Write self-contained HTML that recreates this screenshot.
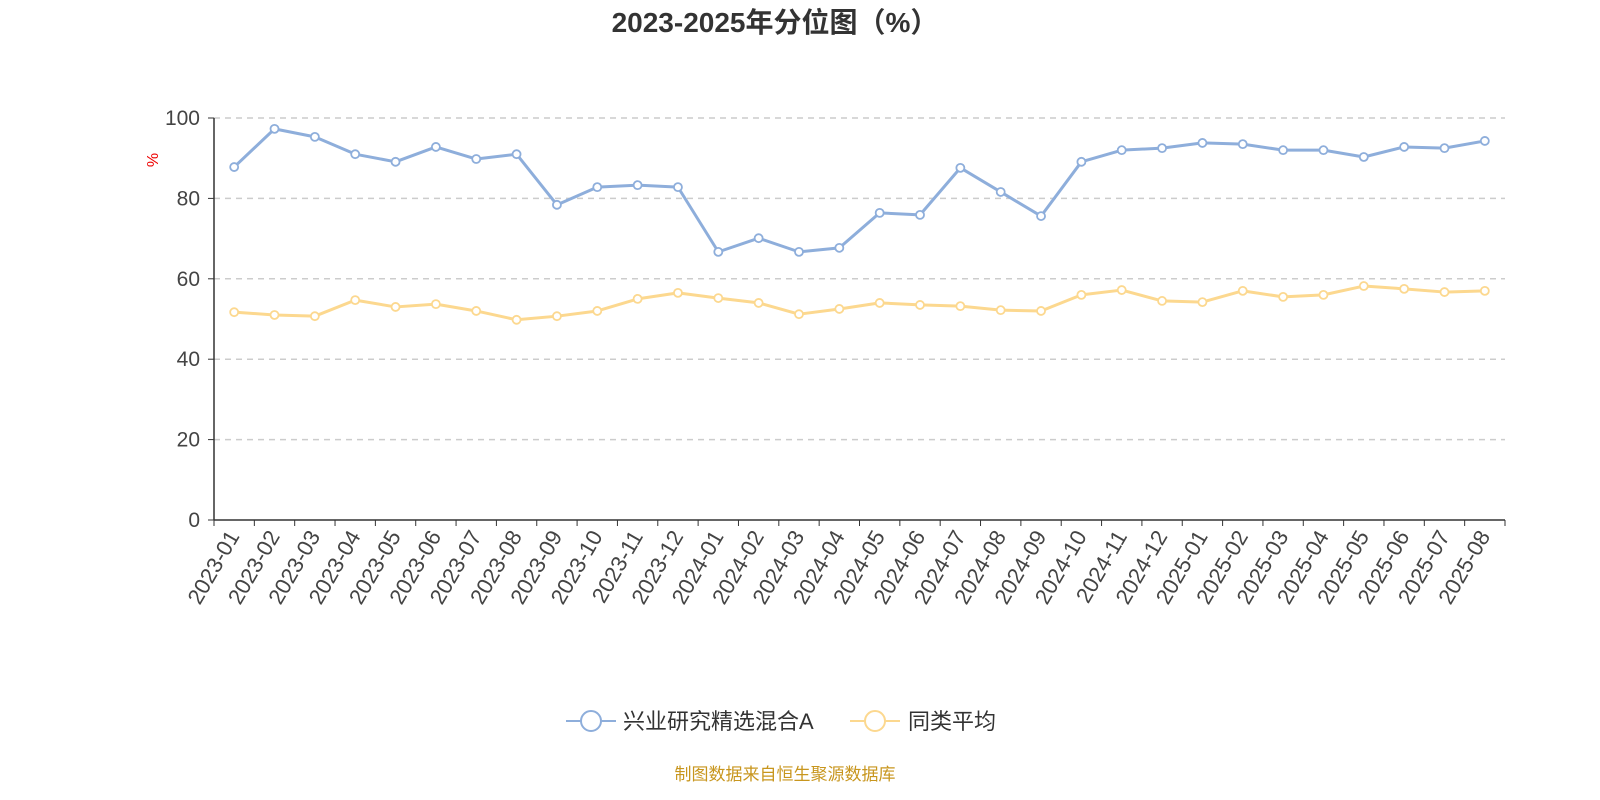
<!DOCTYPE html>
<html><head><meta charset="utf-8"><style>
body{margin:0;background:#fff;}
svg{display:block;font-family:"Liberation Sans","Noto Sans CJK SC",sans-serif;}
</style></head><body>
<svg id="c" width="1600" height="800">
<text x="775" y="32" text-anchor="middle" font-size="28" font-weight="bold" fill="#333">2023-2025年分位图（%）</text>
<text x="158" y="160" font-size="16" fill="#e00" transform="rotate(-90 158 160)" text-anchor="middle">%</text>
<g id="grid"></g><g id="axes"></g><g id="series"></g>
<g>
<g>
<line x1="566" y1="721" x2="616" y2="721" stroke="#8eaedb" stroke-width="2"/><circle cx="591" cy="721" r="10" fill="#fff" stroke="#8eaedb" stroke-width="2"/>
<text x="623" y="729" font-size="22" fill="#333">兴业研究精选混合A</text></g>
<g>
<line x1="850" y1="721" x2="900" y2="721" stroke="#fcd88f" stroke-width="2"/><circle cx="875" cy="721" r="10" fill="#fff" stroke="#fcd88f" stroke-width="2"/>
<text x="908" y="729" font-size="22" fill="#333">同类平均</text></g>
</g>
<text x="785" y="780" text-anchor="middle" font-size="17" fill="#c8961e">制图数据来自恒生聚源数据库</text>
</svg>
<script>
const categories=["2023-01","2023-02","2023-03","2023-04","2023-05","2023-06","2023-07","2023-08","2023-09","2023-10","2023-11","2023-12","2024-01","2024-02","2024-03","2024-04","2024-05","2024-06","2024-07","2024-08","2024-09","2024-10","2024-11","2024-12","2025-01","2025-02","2025-03","2025-04","2025-05","2025-06","2025-07","2025-08"];
const fundValues=[87.8,97.3,95.3,91.0,89.1,92.8,89.8,91.0,78.4,82.8,83.3,82.8,66.7,70.1,66.7,67.7,76.4,75.9,87.6,81.6,75.6,89.1,92.0,92.5,93.8,93.5,92.0,92.0,90.3,92.8,92.5,94.3];
const avgValues=[51.7,51.0,50.7,54.7,53.0,53.7,52.0,49.8,50.7,52.0,55.0,56.5,55.2,54.0,51.2,52.5,54.0,53.5,53.2,52.2,52.0,56.0,57.2,54.5,54.2,57.0,55.5,56.0,58.2,57.5,56.7,57.0];
const yTicks=[0,20,40,60,80,100];
const NS="http://www.w3.org/2000/svg";
const x0=214,x1=1505,yB=520,yT=118;
const bw=(x1-x0)/categories.length;
const xs=i=>x0+bw*(i+0.5);
const ys=v=>yB-(v/100)*(yB-yT);
function mk(tag,attrs,parent){const e=document.createElementNS(NS,tag);for(const k in attrs)e.setAttribute(k,attrs[k]);parent.appendChild(e);return e;}
const grid=document.getElementById('grid'),axes=document.getElementById('axes'),ser=document.getElementById('series');
yTicks.forEach(t=>{
 if(t>0){const l=mk('line',{x1:x0,x2:x1,y1:ys(t),y2:ys(t),stroke:'#ccc','stroke-dasharray':'6,5','stroke-width':1.5},grid);
 
 }
 const tx=mk('text',{x:x0-14,y:ys(t)+7,'text-anchor':'end','font-size':21,fill:'#444'},axes);tx.textContent=t;
 
 
 mk('line',{x1:x0-6,x2:x0,y1:ys(t),y2:ys(t),stroke:'#333'},axes);
});
const ya=mk('line',{x1:x0,x2:x0,y1:yT,y2:yB,stroke:'#333','stroke-width':1.5},axes);


const xa=mk('line',{x1:x0,x2:x1,y1:yB,y2:yB,stroke:'#333','stroke-width':1.5},axes);


for(let i=0;i<=categories.length;i++){mk('line',{x1:x0+bw*i,x2:x0+bw*i,y1:yB,y2:yB+6,stroke:'#333'},axes);}
categories.forEach((c,i)=>{
 const x=xs(i)+6,y=yB+16;
 const t=mk('text',{x:x,y:y,'text-anchor':'end','font-size':22,fill:'#444',transform:`rotate(-60 ${x} ${y})`},axes);
 t.textContent=c;
 
 
});
function series(vals,color,name){
 const p=mk('polyline',{points:vals.map((v,i)=>xs(i)+','+ys(v)).join(' '),fill:'none',stroke:color,'stroke-width':3,'stroke-linejoin':'round'},ser);
 
 
 vals.forEach((v,i)=>{const c=mk('circle',{cx:xs(i),cy:ys(v),r:4,fill:'#fff',stroke:color,'stroke-width':1.8},ser);
 
 });
}
series(avgValues,'#fcd88f','average');
series(fundValues,'#8eaedb','fund');
</script>
</body></html>
